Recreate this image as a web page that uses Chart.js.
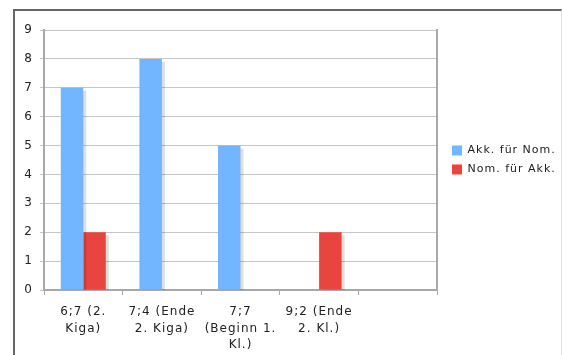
<!DOCTYPE html>
<html>
<head>
<meta charset="utf-8">
<script src="https://cdn.jsdelivr.net/npm/chart.js@4/dist/chart.umd.min.js"></script>
<style>
  body { margin: 0; background: #fff; }
  #wrap { position: relative; width: 562px; height: 355px; overflow: hidden; }
  #frame { position: absolute; left: 13px; top: 9px; width: 546px; height: 400px;
    border-top: 2px solid #666; border-left: 2px solid #666; border-right: 1px solid #ddd; }
  canvas { position: absolute; left: 0; top: 0; }
</style>
</head>
<body>
<div id="wrap">
  <div id="frame"></div>
  <canvas id="myChart" width="562" height="355"></canvas>
</div>
<script>
const categories = [
    ['6;7 (2.', 'Kiga)'],
    ['7;4 (Ende', '2. Kiga)'],
    ['7;7', '(Beginn 1.', 'Kl.)'],
    ['9;2 (Ende', '2. Kl.)'],
    ''
];
const akkFuerNom = [7, 8, 5, 0, null];
const nomFuerAkk = [2, 0, 0, 2, null];
const yTicks = [0, 1, 2, 3, 4, 5, 6, 7, 8, 9];

const axisColor = '#a8a8a8';
const textColor = '#222';

// wide spaced text like the original, legend width fixed since measureText ignores the spacing
const spacing = {
    id: 'spacing',
    beforeLayout(chart) {
        chart.ctx.letterSpacing = '1px';
        const lg = chart.legend;
        if (lg && !lg._fixedWidth) {
            const fit = lg.fit;
            lg.fit = function () {
                fit.call(this);
                this.width = 117;
            };
            lg._fixedWidth = true;
        }
    },
    beforeDraw(chart) { chart.ctx.letterSpacing = '1px'; }
};

// light drop shadow at the right of the bars
const barShadow = {
    id: 'barShadow',
    beforeDatasetsDraw(chart) {
        const ctx = chart.ctx;
        ctx.save();
        ctx.shadowColor = 'rgba(0,0,0,0.13)';
        ctx.shadowOffsetX = 3;
        ctx.shadowOffsetY = 3;
        ctx.shadowBlur = 0;
    },
    afterDatasetsDraw(chart) {
        chart.ctx.restore();
    }
};

const data = {
    labels: categories,
    datasets: [{
        label: 'Akk. für Nom.',
        data: akkFuerNom,
        backgroundColor: '#72b6ff',
        categoryPercentage: 0.573,
        barPercentage: 1
    }, {
        label: 'Nom. für Akk.',
        data: nomFuerAkk,
        backgroundColor: '#e84541',
        categoryPercentage: 0.573,
        barPercentage: 1
    }]
};

const config = {
    type: 'bar',
    data: data,
    plugins: [spacing, barShadow],
    options: {
        responsive: false,
        animation: false,
        layout: { padding: { top: 30, left: 0, right: 1, bottom: 0 } },
        plugins: {
            tooltip: { enabled: false },
            legend: {
                position: 'right',
                fullSize: false,
                labels: {
                    boxWidth: 10,
                    boxHeight: 10,
                    padding: 8,
                    color: textColor,
                    font: { family: 'DejaVu Sans', size: 11 }
                }
            }
        },
        scales: {
            x: {
                offset: true,
                grid: { drawOnChartArea: false, drawTicks: true, tickLength: 5, color: axisColor, lineWidth: 1, offset: true },
                border: { color: axisColor, width: 2 },
                ticks: {
                    color: textColor,
                    padding: 9,
                    maxRotation: 0,
                    autoSkip: false,
                    font: { family: 'DejaVu Sans', size: 12, lineHeight: 1.375 }
                },
                afterFit(scale) { scale.height = 65; }
            },
            y: {
                min: 0,
                max: 9,
                afterBuildTicks(scale) { scale.ticks = yTicks.map(v => ({ value: v })); },
                grid: { color: '#c6c6c6', lineWidth: 1, tickLength: 4 },
                border: { color: axisColor, width: 2 },
                ticks: {
                    color: textColor,
                    padding: 7,
                    font: { family: 'DejaVu Sans', size: 12 }
                },
                afterFit(scale) { scale.width = 44; }
            },
            right: {
                type: 'linear',
                position: 'right',
                min: 0,
                max: 9,
                grid: { drawOnChartArea: false, drawTicks: false },
                border: { display: true, color: axisColor, width: 2 },
                ticks: { display: false },
                afterFit(scale) { scale.width = 7; }
            }
        }
    }
};

const myChart = new Chart(document.getElementById('myChart'), config);
</script>
</body>
</html>
